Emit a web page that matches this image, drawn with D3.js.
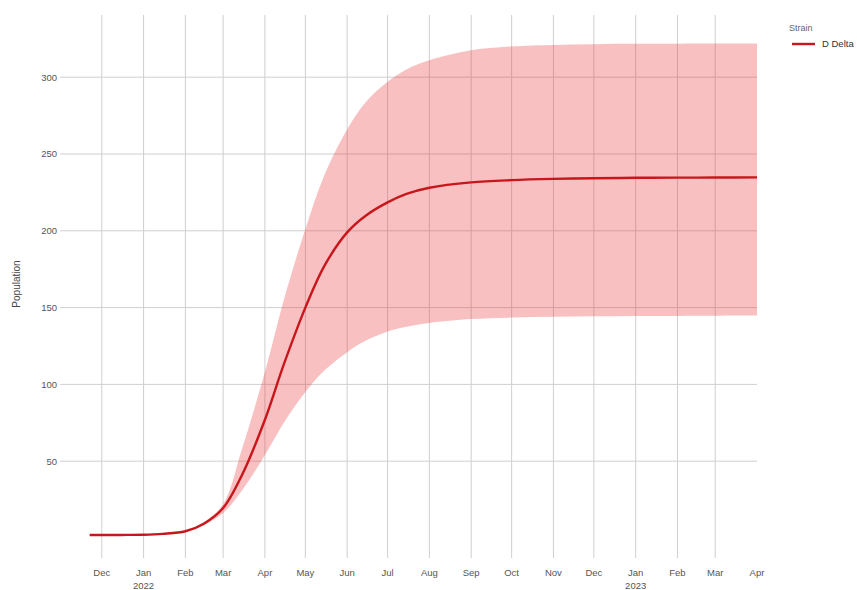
<!DOCTYPE html>
<html>
<head>
<meta charset="utf-8">
<script src="https://cdn.jsdelivr.net/npm/d3@7"></script>
<style>
  html, body { margin: 0; padding: 0; background: #fff; }
  svg { display: block; font-family: "Liberation Sans", Arial, sans-serif; }
</style>
</head>
<body>
<svg id="chart" width="857" height="590"></svg>
<script>
// Projected population of the D Delta strain, with its uncertainty band
const dates = [
  "2021-11-22", "2021-12-15", "2022-01-01", "2022-01-15", "2022-02-01", "2022-02-15",
  "2022-03-01", "2022-03-15", "2022-04-01", "2022-04-15", "2022-05-01", "2022-05-15",
  "2022-06-01", "2022-06-15", "2022-07-01", "2022-07-15", "2022-08-01", "2022-09-01",
  "2022-10-01", "2022-11-01", "2022-12-01", "2023-01-01", "2023-02-01", "2023-03-01",
  "2023-04-01"
];
const middle = [2.0, 2.0, 2.1, 2.7, 4.4, 9.5, 19.5, 41, 77, 113, 150, 177,
                199, 210, 218.5, 224, 228, 231.5, 233, 233.8, 234.2, 234.5, 234.6, 234.7,
                234.8];
const lower  = [1.9, 1.9, 2.0, 2.5, 4.0, 8.5, 16.3, 31, 54, 75, 95, 109,
                121, 128.5, 134.5, 137.5, 140, 142.5, 143.5, 144, 144.3, 144.5, 144.6, 144.7,
                144.8];
const upper  = [2.1, 2.1, 2.2, 2.9, 4.8, 10.5, 22, 58, 108, 155, 201, 236,
                266, 284, 297, 305, 311, 317.5, 320, 321, 321.5, 321.7, 321.8, 321.9,
                322];

const yTicks = [50, 100, 150, 200, 250, 300];
const monthTicks = [
  "2021-12-01", "2022-01-01", "2022-02-01", "2022-03-01", "2022-04-01", "2022-05-01",
  "2022-06-01", "2022-07-01", "2022-08-01", "2022-09-01", "2022-10-01", "2022-11-01",
  "2022-12-01", "2023-01-01", "2023-02-01", "2023-03-01", "2023-04-01"
];
const seriesName = "D Delta";
const legendTitle = "Strain";
const yTitle = "Population";

const parse = d3.utcParse("%Y-%m-%d");
const rows = dates.map((d, i) => ({ t: parse(d), lo: lower[i], mid: middle[i], hi: upper[i] }));
const ticks = monthTicks.map(parse);

const svg = d3.select("#chart");
const plotLeft = 60, plotRight = 757, plotTop = 15, gridBottom = 558;

const x = d3.scaleUtc()
  .domain([parse("2021-10-31"), parse("2023-04-01")])
  .range([plotLeft, plotRight]);
const y = d3.scaleLinear().domain([0, 300]).range([538, 77.2]);

const gridColor = "#cfcfcf";
const smooth = d3.curveCatmullRom.alpha(0.5);

// vertical grid at each month (none at the right edge)
svg.append("g").selectAll("line")
  .data(ticks.filter(t => x(t) < plotRight - 2))
  .join("line")
  .attr("x1", d => x(d)).attr("x2", d => x(d))
  .attr("y1", plotTop).attr("y2", gridBottom)
  .attr("stroke", gridColor).attr("stroke-width", 1);

// horizontal grid
svg.append("g").selectAll("line")
  .data(yTicks)
  .join("line")
  .attr("x1", plotLeft).attr("x2", plotRight)
  .attr("y1", d => y(d)).attr("y2", d => y(d))
  .attr("stroke", gridColor).attr("stroke-width", 1);

// uncertainty band
const area = d3.area()
  .x(d => x(d.t)).y0(d => y(d.lo)).y1(d => y(d.hi))
  .curve(smooth);
svg.append("path")
  .datum(rows)
  .attr("d", area)
  .attr("fill", "#e8302f")
  .attr("fill-opacity", 0.3);

// central projection
const line = d3.line()
  .x(d => x(d.t)).y(d => y(d.mid))
  .curve(smooth);
svg.append("path")
  .datum(rows)
  .attr("d", line)
  .attr("fill", "none")
  .attr("stroke", "#c8161d")
  .attr("stroke-width", 2.4);

// y tick labels
svg.append("g").selectAll("text")
  .data(yTicks)
  .join("text")
  .attr("x", 57).attr("y", d => y(d))
  .attr("dy", "0.35em")
  .attr("text-anchor", "end")
  .attr("font-size", 9.5)
  .attr("fill", "#555")
  .text(d => d);

// month labels, with the year under each January
const monthFmt = d3.utcFormat("%b");
const xl = svg.append("g");
xl.selectAll("text.m")
  .data(ticks)
  .join("text")
  .attr("class", "m")
  .attr("x", d => x(d)).attr("y", 576)
  .attr("text-anchor", "middle")
  .attr("font-size", 9.5)
  .attr("fill", "#555")
  .text(d => monthFmt(d));
xl.selectAll("text.yr")
  .data(ticks.filter(t => t.getUTCMonth() === 0))
  .join("text")
  .attr("class", "yr")
  .attr("x", d => x(d)).attr("y", 589)
  .attr("text-anchor", "middle")
  .attr("font-size", 9.5)
  .attr("fill", "#555")
  .text(d => d.getUTCFullYear());

// y axis title
svg.append("text")
  .attr("transform", "translate(20,284) rotate(-90)")
  .attr("text-anchor", "middle")
  .attr("font-size", 10)
  .attr("fill", "#444")
  .text(yTitle);

// legend
svg.append("text")
  .attr("x", 789).attr("y", 31)
  .attr("font-size", 9)
  .attr("fill", "#666")
  .text(legendTitle);
svg.append("line")
  .attr("x1", 792).attr("x2", 815)
  .attr("y1", 44).attr("y2", 44)
  .attr("stroke", "#c8161d").attr("stroke-width", 2.4);
svg.append("text")
  .attr("x", 822).attr("y", 44)
  .attr("dy", "0.35em")
  .attr("font-size", 9.5)
  .attr("fill", "#333")
  .text(seriesName);
</script>
</body>
</html>
